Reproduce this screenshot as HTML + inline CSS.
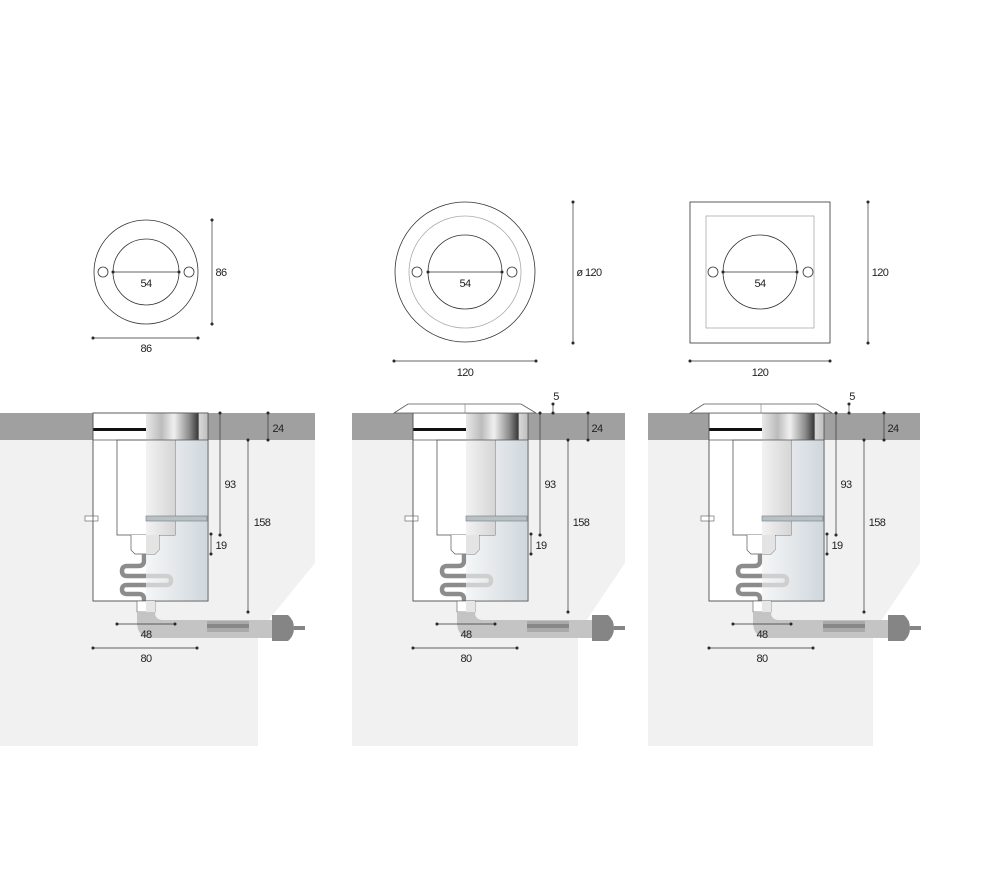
<!DOCTYPE html>
<html><head><meta charset="utf-8"><style>
html,body{margin:0;padding:0;background:#fff;}
svg{display:block;}
text{font-family:"Liberation Sans Narrow","Liberation Sans",sans-serif;font-size:11px;fill:#222;letter-spacing:-0.6px;}
</style></head><body>
<svg width="1000" height="873" viewBox="0 0 1000 873" xmlns="http://www.w3.org/2000/svg">
<defs>
<linearGradient id="chrome" x1="0" x2="1" y1="0" y2="0">
<stop offset="0" stop-color="#e8e8e8"/><stop offset="0.25" stop-color="#bcbcbc"/><stop offset="0.45" stop-color="#f0f0f0"/><stop offset="0.7" stop-color="#8a8a8a"/><stop offset="0.84" stop-color="#3a3a3a"/><stop offset="0.86" stop-color="#d8d8d8"/><stop offset="1" stop-color="#bdbdbd"/>
</linearGradient>
<linearGradient id="glass" x1="0" x2="1" y1="0" y2="0">
<stop offset="0" stop-color="#f4f6f7"/><stop offset="0.5" stop-color="#e3e7ea"/><stop offset="1" stop-color="#cfd7dd"/>
</linearGradient>
<linearGradient id="glass2" x1="0" x2="1" y1="0" y2="0">
<stop offset="0" stop-color="#f2f2f2"/><stop offset="1" stop-color="#d6d6d6"/>
</linearGradient>
<clipPath id="lefthalf"><rect x="0" y="540" width="146" height="80"/></clipPath>
<clipPath id="righthalf"><rect x="146" y="540" width="100" height="80"/></clipPath>
<g id="sec">
<rect x="93" y="413" width="115" height="188" fill="#fff" stroke="#555" stroke-width="0.8"/>
<rect x="146" y="440" width="62" height="161" fill="url(#glass)"/>
<rect x="117" y="440" width="58" height="95" fill="#fff" stroke="#555" stroke-width="0.8"/>
<rect x="146" y="440" width="29" height="95" fill="url(#glass2)"/>
<rect x="146" y="413" width="62" height="27" fill="url(#chrome)"/>
<rect x="93" y="428" width="53" height="3" fill="#111"/>
<line x1="93" y1="440" x2="208" y2="440" stroke="#555" stroke-width="0.8"/>
<rect x="146" y="516" width="61" height="5" fill="#b7c2c8" stroke="#777" stroke-width="0.6"/>
<rect x="85" y="516" width="13" height="5" fill="#fff" stroke="#555" stroke-width="0.6"/>
<path d="M131 535 V550 L135 554 H155 L159 550 V535" fill="#fff" stroke="#555" stroke-width="0.7"/>
<path d="M146 535 V554 H155 L159 550 V535Z" fill="#e4e4e4"/>
<g fill="none" stroke-width="4.5">
<path id="serp" d="M144 554 V561 Q144 566 138 566 H127 Q122 566 122 571 Q122 576 127 576 H166 Q171 576 171 580.5 Q171 585 166 585 H127 Q122 585 122 589.5 Q122 594 127 594 H139 Q144 594 144 599 V602" stroke="#8c8c8c" clip-path="url(#lefthalf)"/>
<path d="M144 554 V561 Q144 566 138 566 H127 Q122 566 122 571 Q122 576 127 576 H166 Q171 576 171 580.5 Q171 585 166 585 H127 Q122 585 122 589.5 Q122 594 127 594 H139 Q144 594 144 599 V602" stroke="#cfcfcf" clip-path="url(#righthalf)"/>
</g>
<rect x="93" y="413" width="115" height="188" fill="none" stroke="#555" stroke-width="0.8"/>
<rect x="137" y="601" width="18" height="11" fill="#fff" stroke="#555" stroke-width="0.6"/>
<rect x="146" y="601" width="9" height="11" fill="#e6e6e6"/>
<path d="M137 612 V622 Q137 638 153 638 H275 V620 H163 Q155 620 155 612Z" fill="#c4c4c4"/>
<rect x="207" y="621" width="42" height="11" fill="#aaa"/>
<rect x="207" y="624" width="42" height="4" fill="#888"/>
<path d="M272 615 H288 Q294 620 294 628 Q294 636 288 641 H272Z" fill="#858585"/>
<rect x="294" y="626" width="11" height="4" fill="#858585"/>
<g stroke="#333" stroke-width="0.7" fill="#222">
<line x1="220" y1="413" x2="220" y2="535"/><circle cx="220" cy="413" r="1.2"/><circle cx="220" cy="535" r="1.2"/>
<line x1="248" y1="440" x2="248" y2="612"/><circle cx="248" cy="440" r="1.2"/><circle cx="248" cy="612" r="1.2"/>
<line x1="268" y1="413" x2="268" y2="440"/><circle cx="268" cy="413" r="1.2"/><circle cx="268" cy="440" r="1.2"/>
<line x1="211" y1="534" x2="211" y2="554"/><circle cx="211" cy="534" r="1.2"/><circle cx="211" cy="554" r="1.2"/>
<line x1="117" y1="624" x2="175" y2="624"/><circle cx="117" cy="624" r="1.2"/><circle cx="175" cy="624" r="1.2"/>
<line x1="93" y1="648" x2="197" y2="648"/><circle cx="93" cy="648" r="1.2"/><circle cx="197" cy="648" r="1.2"/>
</g>
</g>
<g id="cap">
<path d="M394 413 L408 404 H521 L536 413Z" fill="#fff" stroke="#555" stroke-width="0.8"/>
<line x1="465" y1="404" x2="465" y2="413" stroke="#777" stroke-width="0.6"/>
<g stroke="#333" stroke-width="0.7" fill="#222"><line x1="553" y1="404" x2="553" y2="413"/><circle cx="553" cy="404" r="1.2"/><circle cx="553" cy="413" r="1.2"/></g>
</g>
</defs>

<path d="M0 440 H315 V563 L258 633 V746 H0Z" fill="#f1f1f1"/>
<path d="M352 440 H625 V563 L578 633 V746 H352Z" fill="#f1f1f1"/>
<path d="M648 440 H920 V563 L873 633 V746 H648Z" fill="#f1f1f1"/>
<rect x="0" y="413" width="315" height="27" fill="#a0a0a0"/>
<rect x="352" y="413" width="273" height="27" fill="#a0a0a0"/>
<rect x="648" y="413" width="272" height="27" fill="#a0a0a0"/>

<use href="#sec"/>
<use href="#sec" transform="translate(320,0)"/>
<use href="#sec" transform="translate(616,0)"/>
<use href="#cap"/>
<use href="#cap" transform="translate(296,0)"/>

<g fill="none" stroke="#333" stroke-width="0.8">
<circle cx="146" cy="272" r="52"/><circle cx="146" cy="272" r="33"/>
<circle cx="103" cy="272" r="5"/><circle cx="189" cy="272" r="5"/>
<circle cx="465" cy="272" r="70"/><circle cx="465" cy="272" r="56" stroke="#aaa"/><circle cx="465" cy="272" r="37"/>
<circle cx="417" cy="272" r="5"/><circle cx="512" cy="272" r="5"/>
<rect x="690" y="202" width="140" height="141"/><rect x="706" y="216" width="108" height="112" stroke="#aaa"/>
<circle cx="760" cy="272" r="37"/>
<circle cx="713" cy="272" r="5"/><circle cx="808" cy="272" r="5"/>
</g>
<g stroke="#333" stroke-width="0.7" fill="#222">
<line x1="113" y1="272" x2="179" y2="272"/><circle cx="113" cy="272" r="1.2"/><circle cx="179" cy="272" r="1.2"/>
<line x1="212" y1="220" x2="212" y2="324"/><circle cx="212" cy="220" r="1.2"/><circle cx="212" cy="324" r="1.2"/>
<line x1="93" y1="338" x2="198" y2="338"/><circle cx="93" cy="338" r="1.2"/><circle cx="198" cy="338" r="1.2"/>
<line x1="428" y1="272" x2="502" y2="272"/><circle cx="428" cy="272" r="1.2"/><circle cx="502" cy="272" r="1.2"/>
<line x1="573" y1="202" x2="573" y2="343"/><circle cx="573" cy="202" r="1.2"/><circle cx="573" cy="343" r="1.2"/>
<line x1="394" y1="361" x2="536" y2="361"/><circle cx="394" cy="361" r="1.2"/><circle cx="536" cy="361" r="1.2"/>
<line x1="723" y1="272" x2="797" y2="272"/><circle cx="723" cy="272" r="1.2"/><circle cx="797" cy="272" r="1.2"/>
<line x1="868" y1="202" x2="868" y2="343"/><circle cx="868" cy="202" r="1.2"/><circle cx="868" cy="343" r="1.2"/>
<line x1="690" y1="361" x2="830" y2="361"/><circle cx="690" cy="361" r="1.2"/><circle cx="830" cy="361" r="1.2"/>
</g>
<g text-anchor="middle">
<text x="146" y="287">54</text><text x="221" y="276">86</text><text x="146" y="352">86</text>
<text x="465" y="287">54</text><text x="589" y="276">ø 120</text><text x="465" y="376">120</text>
<text x="760" y="287">54</text><text x="880" y="276">120</text><text x="760" y="376">120</text>
</g>
<g text-anchor="middle">
<text x="278" y="432">24</text><text x="230" y="488">93</text><text x="262" y="526">158</text><text x="221" y="549">19</text><text x="146" y="638">48</text><text x="146" y="662">80</text>
<text x="597" y="432">24</text><text x="550" y="488">93</text><text x="581" y="526">158</text><text x="541" y="549">19</text><text x="466" y="638">48</text><text x="466" y="662">80</text>
<text x="556" y="400">5</text>
<text x="893" y="432">24</text><text x="846" y="488">93</text><text x="877" y="526">158</text><text x="837" y="549">19</text><text x="762" y="638">48</text><text x="762" y="662">80</text>
<text x="852" y="400">5</text>
</g>
</svg>
</body></html>
